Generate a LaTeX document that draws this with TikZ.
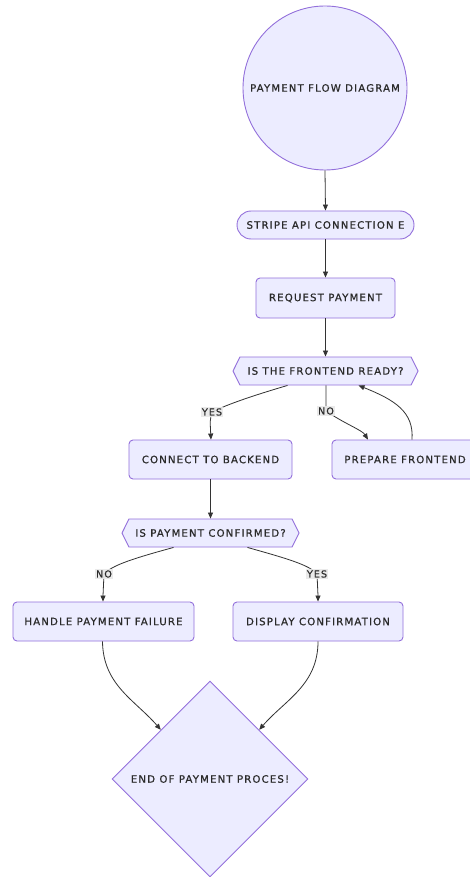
\documentclass[tikz,border=0pt]{standalone}
\usepackage{fontspec}
\setmainfont{DejaVu Sans}[LetterSpace=11, FakeBold=0.6]
\usetikzlibrary{shapes.geometric,shapes.misc,shapes.symbols,arrows.meta}
\definecolor{nodefill}{HTML}{ECECFF}
\definecolor{nodeline}{HTML}{9370DB}
\definecolor{edgeline}{HTML}{333333}
\definecolor{txt}{HTML}{2A2A2A}
\definecolor{lblfill}{HTML}{E8E8E8}
\tikzset{
  base/.style={draw=nodeline, fill=nodefill, line width=0.9pt, text=txt,
    font=\fontsize{10.2}{12}\selectfont, inner sep=0pt, align=center},
  circ/.style={base, circle, minimum size=164pt},
  stadium/.style={base, rounded rectangle, minimum width=177pt, minimum height=28pt},
  box/.style={base, rectangle, rounded corners=4pt, minimum height=39pt},
  hexa/.style={base, signal, signal from=nowhere, signal to=west and east, signal pointer angle=127,
    minimum height=28pt},
  endd/.style={base, diamond, minimum width=196pt, minimum height=196pt},
  edge/.style={draw=edgeline, line width=0.8pt, -{Triangle[length=6pt,width=5pt]}},
  lbl/.style={fill=lblfill, fill opacity=0.9, text opacity=1, text=txt,
    font=\fontsize{9.6}{10}\selectfont, inner sep=1pt}
}
\begin{document}
\begin{tikzpicture}[x=1pt,y=-1pt]
\clip (0,0) rectangle (470,877);
\fill[white] (0,0) rectangle (470,877);
\node[circ] (start) at (325,88) {PAYMENT FLOW DIAGRAM};
\node[stadium] (stripe) at (325.5,225) {STRIPE API CONNECTION E};
\node[box, minimum width=139pt, minimum height=40pt] (req) at (325.5,298) {REQUEST PAYMENT};
\node[hexa, minimum width=185pt] (q1) at (325.5,371) {IS THE FRONTEND READY?};
\node[box, minimum width=163pt] (conn) at (210.5,459.5) {CONNECT TO BACKEND};
\node[box, minimum width=146pt] (prep) at (405,459.5) {PREPARE FRONTEND};
\node[hexa, minimum width=177pt] (q2) at (210.5,533) {IS PAYMENT CONFIRMED?};
\node[box, minimum width=181pt] (fail) at (103.5,621.5) {HANDLE PAYMENT FAILURE};
\node[box, minimum width=170pt] (disp) at (318,621.5) {DISPLAY CONFIRMATION};
\node[endd] (end) at (210,779) {END OF PAYMENT PROCES!};

\draw[edge] (start.south) -- (stripe.north);
\draw[edge] (stripe.south) -- (req.north);
\draw[edge] (req.south) -- (q1.north);
\draw[edge] ([xshift=-38pt]q1.south) .. controls (255,395) and (228,404) .. (212,412)
  node[lbl] {YES} .. controls (210,420) .. ([xshift=0.5pt]conn.north);
\draw[edge] ([xshift=0.5pt]q1.south) .. controls (326,400) .. (326,411)
  node[lbl] {NO} .. controls (345,424) and (362,430) .. ([xshift=-37pt]prep.north);
\draw[edge] ([xshift=7pt]prep.north) .. controls (414,412) and (395,400) .. ([xshift=33pt]q1.south);
\draw[edge] (conn.south) -- (q2.north);
\draw[edge] ([xshift=-37pt]q2.south) .. controls (135,558) and (112,565) .. (104,574)
  node[lbl] {NO} .. controls (103,585) .. ([xshift=-0.5pt]fail.north);
\draw[edge] ([xshift=37pt]q2.south) .. controls (285,558) and (310,565) .. (317,574)
  node[lbl] {YES} .. controls (318,585) .. (disp.north);
\draw[edge] ([xshift=-1pt]fail.south) .. controls (103,685) and (135,700) .. (end.north west);
\draw[edge] (disp.south) .. controls (318,685) and (285,700) .. (end.north east);
\end{tikzpicture}
\end{document}
